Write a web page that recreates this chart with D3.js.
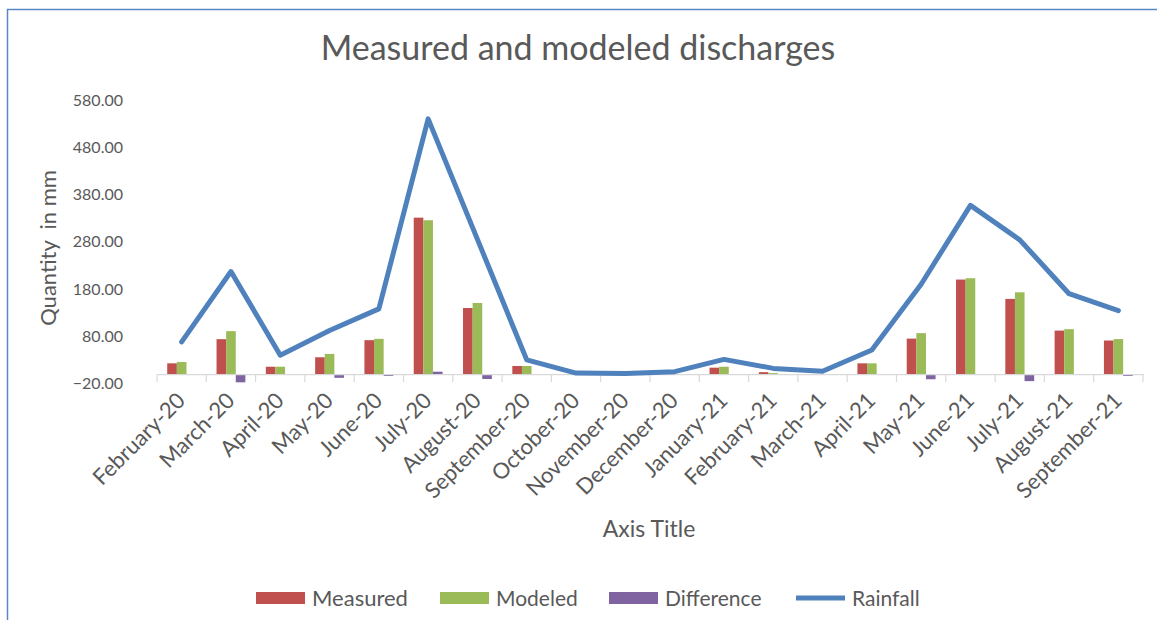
<!DOCTYPE html>
<html>
<head>
<meta charset="utf-8">
<script src="https://cdn.jsdelivr.net/npm/d3@7/dist/d3.min.js"></script>
<style>
  html, body { margin: 0; padding: 0; background: #fff; }
  svg { display: block; }
</style>
</head>
<body>
<svg id="chart" width="1157" height="620" viewBox="0 0 1157 620"></svg>
<script>
// Monthly categories
const months = ["February-20", "March-20", "April-20", "May-20", "June-20", "July-20",
  "August-20", "September-20", "October-20", "November-20", "December-20", "January-21",
  "February-21", "March-21", "April-21", "May-21", "June-21", "July-21", "August-21", "September-21"];

// Discharge series (mm)
const measured   = [22.7, 73.8, 15.5, 35.5, 71.7, 331, 139.8, 17, 0, 0, 0, 13.5, 4, 0, 22.7, 75, 200, 159, 92, 71];
const modeled    = [25.5, 90.8, 15.5, 42.6, 74.5, 325.5, 150.4, 17, 0, 0, 0, 15.5, 2, 0, 22.7, 86.6, 202.8, 173, 95, 74];
const difference = [0, -17.5, 0, -8, -4, 5, -10.5, 0, 0, 0, 0, 0, 0, 0, 0, -11, 0, -15, 0, -4];
const rainfall   = [68, 217, 40, 92, 138, 540, 285, 30, 2, 1, 5, 31, 12, 6, 51, 190, 357, 284, 170, 134];

// Axis ticks
const yTicks = [-20, 80, 180, 280, 380, 480, 580];

const barSeries = [
  { name: "Measured",   values: measured,   color: "#c0504d" },
  { name: "Modeled",    values: modeled,    color: "#9bbb59" },
  { name: "Difference", values: difference, color: "#8064a2" }
];
const lineColor = "#4f81bd";
const FONT = "Lato, 'Open Sans', sans-serif";
const TEXT_COLOR = "#595959";

const svg = d3.select("#chart");

// Helper: pick a whole-number font size so a text spans about the given width
function fitWidth(sel, w) {
  sel.attr("font-family", FONT).attr("fill", TEXT_COLOR).attr("font-size", 20);
  const len = sel.node().getComputedTextLength();
  const size = Math.round(20 * w / len);
  sel.attr("font-size", size);
  return size;
}

const plot = { left: 157, right: 1143, top: 100, bottom: 383.5 };

const x = d3.scaleBand().domain(months).range([plot.left, plot.right]).padding(0);
const y = d3.scaleLinear().domain([-20, 580]).range([plot.bottom, plot.top]);

const innerWidth = x.bandwidth() * 0.585;
const xs = d3.scaleBand()
  .domain(barSeries.map(d => d.name))
  .range([(x.bandwidth() - innerWidth) / 2, (x.bandwidth() + innerWidth) / 2])
  .padding(0);

// Title
const title = svg.append("text")
  .attr("x", 578).attr("y", 60)
  .attr("text-anchor", "middle")
  .text("Measured and modeled discharges");
fitWidth(title, 511);

// Y axis labels
const yAxis = svg.append("g")
  .attr("transform", `translate(123,0)`)
  .call(d3.axisLeft(y).tickValues(yTicks).tickFormat(d3.format(".2f")).tickSize(0).tickPadding(0));
yAxis.select(".domain").remove();
yAxis.attr("font-family", FONT).attr("font-size", 16);
yAxis.selectAll("text").attr("fill", TEXT_COLOR);

// Y axis title
const yTitle = svg.append("text")
  .attr("transform", `translate(56,248) rotate(-90)`)
  .attr("text-anchor", "middle")
  .attr("xml:space", "preserve")
  .text("Quantity  in mm");
fitWidth(yTitle, 155);

// Bars
const groups = svg.append("g").selectAll("g")
  .data(barSeries)
  .join("g")
  .attr("fill", d => d.color);

groups.selectAll("rect")
  .data(s => s.values.map((v, i) => ({ s: s.name, v, m: months[i] })))
  .join("rect")
  .attr("x", d => x(d.m) + xs(d.s))
  .attr("width", xs.bandwidth())
  .attr("y", d => y(Math.max(0, d.v)))
  .attr("height", d => Math.abs(y(d.v) - y(0)));

// X axis line with tick marks between categories
const xAxis = svg.append("g")
  .attr("transform", `translate(0,${y(0)})`)
  .call(d3.axisBottom(x).tickSize(0).tickFormat(""));
xAxis.select(".domain").attr("stroke", "#d9d9d9").attr("stroke-width", 1.2);
xAxis.selectAll(".tick").remove();
svg.append("g").selectAll("line")
  .data(d3.range(months.length + 1))
  .join("line")
  .attr("x1", i => plot.left + i * x.step())
  .attr("x2", i => plot.left + i * x.step())
  .attr("y1", y(0)).attr("y2", y(0) + 8)
  .attr("stroke", "#d9d9d9").attr("stroke-width", 1.2);

// Rotated month labels
const xLabels = svg.append("g").selectAll("text")
  .data(months)
  .join("text")
  .attr("text-anchor", "end")
  .attr("transform", d => `translate(${x(d) + x.bandwidth() / 2 + 5},402) rotate(-45)`)
  .text(d => d);
const xSize = fitWidth(xLabels.filter(d => d === "September-20"), 138);
xLabels.attr("font-family", FONT).attr("fill", TEXT_COLOR).attr("font-size", xSize);

// Rainfall line
svg.append("path")
  .datum(rainfall)
  .attr("fill", "none")
  .attr("stroke", lineColor)
  .attr("stroke-width", 5)
  .attr("stroke-linejoin", "round")
  .attr("stroke-linecap", "round")
  .attr("d", d3.line()
    .x((d, i) => x(months[i]) + x.bandwidth() / 2)
    .y(d => y(d)));

// X axis title
const xTitle = svg.append("text")
  .attr("x", 649).attr("y", 537)
  .attr("text-anchor", "middle")
  .text("Axis Title");
fitWidth(xTitle, 94);

// Legend
const legendItems = [
  { name: "Measured",   color: "#c0504d", type: "bar",  x: 256, tw: 94 },
  { name: "Modeled",    color: "#9bbb59", type: "bar",  x: 440, tw: 83 },
  { name: "Difference", color: "#8064a2", type: "bar",  x: 609, tw: 95 },
  { name: "Rainfall",   color: lineColor, type: "line", x: 796, tw: 67 }
];
const lg = svg.append("g").selectAll("g").data(legendItems).join("g")
  .attr("transform", d => `translate(${d.x},598)`);
lg.filter(d => d.type === "bar").append("rect")
  .attr("x", 0).attr("y", -6).attr("width", 49).attr("height", 12)
  .attr("fill", d => d.color);
lg.filter(d => d.type === "line").append("line")
  .attr("x1", 0).attr("x2", 49).attr("y1", 0).attr("y2", 0)
  .attr("stroke", d => d.color).attr("stroke-width", 5);
lg.append("text")
  .attr("x", 56).attr("y", 8)
  .text(d => d.name)
  .each(function(d) { fitWidth(d3.select(this), d.tw); });

// Outer chart frame (top and left edges)
svg.append("path")
  .attr("d", "M7.5,620 V9.5 H1157")
  .attr("fill", "none")
  .attr("stroke", "#5a87c6")
  .attr("stroke-width", 1.5);
</script>
</body>
</html>
